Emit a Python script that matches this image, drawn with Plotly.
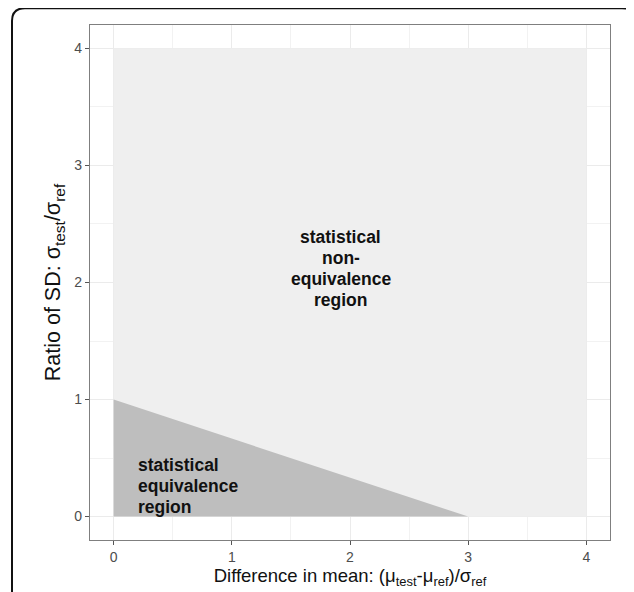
import plotly.graph_objects as go

# ---- data ----
nonequiv_x = [0, 4, 4, 0, 0]
nonequiv_y = [0, 0, 4, 4, 0]
equiv_x = [0, 0, 3, 0]
equiv_y = [0, 1, 0, 0]
tick_vals = [0, 1, 2, 3, 4]
tick_text = ["0", "1", "2", "3", "4"]
nonequiv_lines = ["statistical", "non-", "equivalence", "region"]
equiv_lines = ["statistical", "equivalence", "region"]

FONT = "Liberation Sans, Arial, Helvetica, sans-serif"

fig = go.Figure()
fig.add_trace(go.Scatter(x=nonequiv_x, y=nonequiv_y, mode="lines", fill="toself",
                         fillcolor="#efefef", line=dict(width=0, color="#efefef"),
                         hoverinfo="skip", showlegend=False))
fig.add_trace(go.Scatter(x=equiv_x, y=equiv_y, mode="lines", fill="toself",
                         fillcolor="#bebebe", line=dict(width=0, color="#bebebe"),
                         hoverinfo="skip", showlegend=False))

annotations = []
n = len(nonequiv_lines)
for i, t in enumerate(nonequiv_lines):
    annotations.append(dict(x=1.92, y=2.12, xref="x", yref="y", text="<b>%s</b>" % t,
                            showarrow=False, xanchor="center", yanchor="middle",
                            yshift=((n - 1) / 2 - i) * 21.3,
                            font=dict(family=FONT, size=17.5, color="#111111")))
m = len(equiv_lines)
for i, t in enumerate(equiv_lines):
    annotations.append(dict(x=0.19, y=0.26, xref="x", yref="y", text="<b>%s</b>" % t,
                            showarrow=False, xanchor="left", yanchor="middle",
                            yshift=((m - 1) / 2 - i) * 21.0,
                            font=dict(family=FONT, size=17.5, color="#111111")))

# outer rounded frame (paper coords; plot area 520x520)
def px(x):
    return (x - 90) / 520.0
def py(y):
    return (545 - y) / 520.0
L, T, R, B, r = 12, 8, 635, 620, 13
path = (f"M {px(L+r)} {py(T)} L {px(R-r)} {py(T)} Q {px(R)} {py(T)} {px(R)} {py(T+r)} "
        f"L {px(R)} {py(B-r)} Q {px(R)} {py(B)} {px(R-r)} {py(B)} "
        f"L {px(L+r)} {py(B)} Q {px(L)} {py(B)} {px(L)} {py(B-r)} "
        f"L {px(L)} {py(T+r)} Q {px(L)} {py(T)} {px(L+r)} {py(T)} Z")

axis_common = dict(
    range=[-0.2, 4.2], tickvals=tick_vals, ticktext=tick_text,
    showgrid=True, gridcolor="#ebebeb", gridwidth=1.1,
    minor=dict(dtick=0.5, showgrid=True, gridcolor="#f2f2f2", gridwidth=0.6, tick0=0),
    zeroline=False, showline=True, linecolor="#7f7f7f", linewidth=1.3, mirror=True,
    ticks="outside", ticklen=4, tickcolor="#555555", tickwidth=1,
    tickfont=dict(family=FONT, size=14, color="#4d4d4d"),
)

ysub = '<sub><span style="font-size:15.5px">%s</span></sub>'

fig.update_layout(
    width=626, height=584,
    margin=dict(l=82, r=24, t=17, b=47),
    paper_bgcolor="white", plot_bgcolor="white",
    xaxis=dict(**axis_common,
               title=dict(text="Difference in mean: (μ<sub>test</sub>-μ<sub>ref</sub>)/σ<sub>ref</sub>",
                          font=dict(family=FONT, size=18.5, color="#111111"), standoff=2)),
    yaxis=dict(**axis_common,
               title=dict(text="Ratio of SD: σ" + ysub % "test" + "/σ" + ysub % "ref",
                          font=dict(family=FONT, size=21.5, color="#111111"), standoff=7)),
    annotations=annotations,
    shapes=[dict(type="path", xref="paper", yref="paper", path=path,
                 line=dict(color="#111111", width=2), fillcolor="rgba(0,0,0,0)", layer="above")],
)

fig.write_html("out.html")
